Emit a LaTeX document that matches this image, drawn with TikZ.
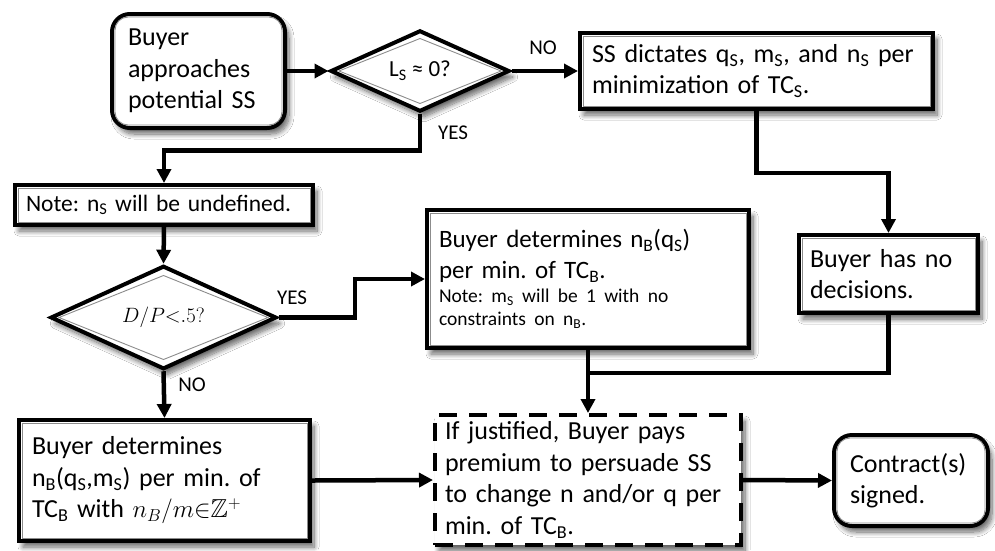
\documentclass[tikz,border=0pt]{standalone}
\usepackage{fontspec}
\setmainfont{Carlito}
\usepackage{amssymb}
\usetikzlibrary{shapes.geometric,arrows.meta,shadows.blur}
\newcommand\fontmain{\fontsize{26}{31.5}\selectfont}
\newcommand\fontmainb{\fontsize{25}{31}\selectfont}
\newcommand\fontnote{\fontsize{23.5}{28}\selectfont}
\newcommand\fontsmall{\fontsize{19.5}{23.5}\selectfont}
\newcommand\fontlab{\fontsize{21}{25}\selectfont}
\newcommand\fontdia{\fontsize{23}{27}\selectfont}
\newcommand\subs[1]{\textsubscript{#1}}
\begin{document}
\frenchspacing
\begin{tikzpicture}[x=1pt,y=-1pt,
  shad/.style={blur shadow={shadow xshift=4pt,shadow yshift=-6pt,shadow blur radius=5pt,shadow blur steps=10,shadow opacity=60}},
  fbox/.style={rectangle,draw=black,line width=4pt,fill=white,shad,align=left,inner sep=0pt,font=\fontmain},
  rbox/.style={fbox,rounded corners=18pt},
  dia/.style={diamond,draw=black,line width=4pt,fill=white,shad,inner sep=0pt,font=\fontdia},
  innerl/.style={draw=black!45,line width=0.9pt},
  conn/.style={line width=4.5pt,-{Triangle[length=14pt,width=14pt]}},
  plain/.style={line width=4.5pt},
  lab/.style={font=\fontlab,inner sep=0pt}
]
\fill[white] (0,0) rectangle (995,550);
\useasboundingbox (0,0) rectangle (995,550);

\node[rbox, minimum width=173pt, minimum height=114pt, text width=141pt] (start) at (198.5,71) {Buyer\\approaches\\potential SS};
\node[dia, minimum width=179pt, minimum height=72pt] (d1) at (420,71) {L\subs{S} ≈ 0?};
\node[fbox, minimum width=353pt, minimum height=76pt, text width=329pt] (ss) at (756.5,71) {SS dictates q\subs{S}, m\subs{S}, and n\subs{S} per\\minimization of TC\subs{S}.};
\node[fbox, font=\fontnote, minimum width=298pt, minimum height=40pt, text width=276pt] (note) at (164,205) {Note: n\subs{S} will be undefined.};
\node[dia, font=\fontsize{22.5}{26}\selectfont, minimum width=226pt, minimum height=91pt] (d2) at (163.5,317.5) {$D/P{<}.5?$};
\node[fbox, font=\fontmainb, minimum width=322pt, minimum height=138pt, text width=298pt] (nb1) at (588,279) {Buyer determines n\subs{B}(q\subs{S})\\per min. of TC\subs{B}.\par\fontsmall\parbox[t]{298pt}{\raggedright Note: m\subs{S} will be 1 with no\\constraints on n\subs{B}.}\\[8pt]};
\node[fbox, minimum width=179pt, minimum height=78pt, text width=157pt] (nodec) at (888.5,274) {Buyer has no\\decisions.};
\node[fbox, minimum width=291pt, minimum height=121pt, text width=265pt] (nb2) at (164.5,480.5) {Buyer determines\\n\subs{B}(q\subs{S},m\subs{S}) per min. of\\TC\subs{B} with $n_B/m{\in}\mathbb{Z}^{+}$};
\node[fbox, dash pattern=on 18pt off 12pt, minimum width=306pt, minimum height=130pt, text width=286pt] (dash) at (588,480) {If justified, Buyer pays\\premium to persuade SS\\to change n and/or q per\\min. of TC\subs{B}.};
\node[rbox, minimum width=154pt, minimum height=91pt, text width=122pt] (contract) at (911,480.5) {Contract(s)\\signed.};

\foreach \n in {ss,note,nb1,nodec,nb2}
  \draw[innerl] ([xshift=5pt,yshift=-5pt]\n.north west) rectangle ([xshift=-5pt,yshift=5pt]\n.south east);
\foreach \n in {start,contract}
  \draw[innerl,rounded corners=13pt] ([xshift=5pt,yshift=-5pt]\n.north west) rectangle ([xshift=-5pt,yshift=5pt]\n.south east);
\draw[innerl] ([xshift=-81pt]d1.center) -- ([yshift=32.5pt]d1.center) -- ([xshift=81pt]d1.center) -- ([yshift=-32.5pt]d1.center) -- cycle;
\draw[innerl] ([xshift=-104.5pt]d2.center) -- ([yshift=42pt]d2.center) -- ([xshift=104.5pt]d2.center) -- ([yshift=-42pt]d2.center) -- cycle;

\draw[conn] (start.east) -- (d1.west);
\draw[conn] (d1.east) -- (ss.west);
\node[lab] (no1) at (543,48) {NO};
\draw[conn] (d1.south) -- ++(0,37) -| (note.north);
\node[lab] (yes1) at (453,133) {YES};
\draw[conn] (note.south) -- (d2.north);
\coordinate (b1) at (355,317.5);
\draw[conn] (d2.east) -- (b1) |- (nb1.west);
\node[lab] (yes2) at (292,298) {YES};
\draw[conn] (ss.south) -- ++(0,62) -| (nodec.north);
\coordinate (j) at (588,373);
\draw[plain] (nodec.south) |- (j);
\draw[conn] (nb1.south) -- (dash.north);
\draw[conn] (d2.south) -- (nb2.north);
\node[lab] (no2) at (192,385) {NO};
\draw[conn] (nb2.east) -- (dash.west);
\draw[conn] (dash.east) -- (contract.west);
\end{tikzpicture}
\end{document}
